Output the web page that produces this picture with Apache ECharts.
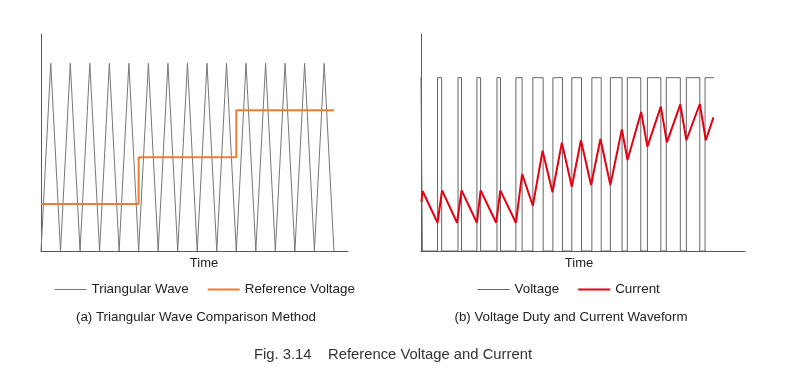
<!DOCTYPE html>
<html>
<head>
<meta charset="utf-8">
<script src="https://cdn.jsdelivr.net/npm/echarts@6/dist/echarts.min.js"></script>
<style>
html,body{margin:0;padding:0;background:#fff;}
#chart{width:785px;height:388px;}
</style>
</head>
<body>
<div id="chart"></div>
<script>
// ---- (a) Triangular wave comparison ----
var triTroughTimes = [0, 1, 2, 3, 4, 5, 6, 7, 8, 9, 10, 11, 12, 13, 14, 15];
var triPeakTimes   = [0.5, 1.5, 2.5, 3.5, 4.5, 5.5, 6.5, 7.5, 8.5, 9.5, 10.5, 11.5, 12.5, 13.5, 14.5];
var triLow = 0, triHigh = 1;
var refStepTimes = [0, 5, 10, 15];
var refLevels    = [0.25, 0.5, 0.75];

// ---- (b) Voltage duty and current ----
var pulseFall = [0.07, 1.06, 2.08, 3.06, 4.08, 5.19, 6.27, 7.26, 8.24, 9.25, 10.32, 11.28, 12.31, 13.31, 14.31];
var pulseRise = [0.85, 1.90, 2.87, 3.90, 4.87, 5.74, 6.77, 7.74, 8.77, 9.72, 10.59, 11.62, 12.59, 13.62, 14.58];
var voltageEnd = 15.03;
var vLow = 0, vHigh = 1;
var currentTime  = [0.02, 0.08, 0.85, 1.08, 1.85, 2.08, 2.87, 3.06, 3.86, 4.07, 4.87, 5.19, 5.74, 6.24, 6.75, 7.23, 7.74, 8.21, 8.73, 9.21, 9.72, 10.31, 10.60, 11.30, 11.62, 12.31, 12.62, 13.31, 13.62, 14.31, 14.62, 15.01];
var currentValue = [0.284, 0.346, 0.163, 0.350, 0.163, 0.350, 0.163, 0.350, 0.163, 0.350, 0.163, 0.444, 0.261, 0.579, 0.339, 0.625, 0.371, 0.639, 0.381, 0.646, 0.381, 0.702, 0.525, 0.802, 0.602, 0.833, 0.627, 0.846, 0.639, 0.848, 0.639, 0.771];

var legendA = ['Triangular Wave', 'Reference Voltage'];
var legendB = ['Voltage', 'Current'];
var axisName = 'Time';
var captionA = '(a) Triangular Wave Comparison Method';
var captionB = '(b) Voltage Duty and Current Waveform';
var figCaption = 'Fig. 3.14    Reference Voltage and Current';

// build series data
var triData = [];
for (var i = 0; i < triTroughTimes.length; i++) {
  triData.push([triTroughTimes[i], triLow]);
  if (i < triPeakTimes.length) triData.push([triPeakTimes[i], triHigh]);
}
var refData = [];
for (var j = 0; j < refLevels.length; j++) {
  refData.push([refStepTimes[j], refLevels[j]]);
  refData.push([refStepTimes[j + 1], refLevels[j]]);
}
var vData = [[0, vHigh]];
for (var k = 0; k < pulseFall.length; k++) {
  vData.push([pulseFall[k], vHigh], [pulseFall[k], vLow]);
  if (k < pulseRise.length) vData.push([pulseRise[k], vLow], [pulseRise[k], vHigh]);
}
vData.push([voltageEnd, vHigh]);
var iData = currentTime.map(function (t, n) { return [t, currentValue[n]]; });

var FONT = '"Liberation Sans", Arial, sans-serif';
var axisCol = '#595959';
var colTri = '#777', colRef = '#ED7D31', colV = '#666', colI = '#E60012';
function xAx(idx, max) {
  return { type: 'value', gridIndex: idx, min: 0, max: max,
    axisLine: { show: true, onZero: false, lineStyle: { color: axisCol, width: 1 } },
    axisTick: { show: false }, axisLabel: { show: false }, splitLine: { show: false } };
}
function yAx(idx, max) {
  return { type: 'value', gridIndex: idx, min: 0, max: max,
    axisLine: { show: true, onZero: false, lineStyle: { color: axisCol, width: 1 } },
    axisTick: { show: false }, axisLabel: { show: false }, splitLine: { show: false } };
}
function txt(x, y, s, col, size) {
  return { type: 'text', x: x, y: y, style: { text: s, fill: col || '#222', font: (size || 13) + 'px ' + FONT, textAlign: 'center', textVerticalAlign: 'middle' } };
}
function legItem(name, color, width) {
  return { name: name, lineStyle: { color: color, width: width }, itemStyle: { opacity: 0 } };
}
var legendCommon = { padding: 0, itemWidth: 32, itemHeight: 14, itemGap: 18,
  itemStyle: { opacity: 0 },
  textStyle: { fontSize: 13.4, color: '#222', fontFamily: FONT } };

var chart = echarts.init(document.getElementById('chart'), null, { renderer: 'canvas' });
chart.setOption({
  animation: false,
  backgroundColor: '#fff',
  grid: [
    { left: 41, top: 34, width: 307, height: 217 },
    { left: 421, top: 34, width: 324, height: 217 }
  ],
  xAxis: [xAx(0, 15.72), xAx(1, 16.63)],
  yAxis: [yAx(0, 1.156), yAx(1, 1.252)],
  legend: [
    Object.assign({ data: [legItem(legendA[0], colTri, 1), legItem(legendA[1], colRef, 2)], left: 54, top: 283 }, legendCommon),
    Object.assign({ data: [legItem(legendB[0], colV, 1), legItem(legendB[1], colI, 2)], left: 477, top: 283 }, legendCommon)
  ],
  series: [
    { name: legendA[0], type: 'line', xAxisIndex: 0, yAxisIndex: 0, data: triData, symbol: 'none',
      lineStyle: { color: colTri, width: 1 }, itemStyle: { color: colTri }, z: 2 },
    { name: legendA[1], type: 'line', xAxisIndex: 0, yAxisIndex: 0, data: refData, symbol: 'none',
      lineStyle: { color: colRef, width: 2 }, itemStyle: { color: colRef }, z: 3 },
    { name: legendB[0], type: 'line', xAxisIndex: 1, yAxisIndex: 1, data: vData, symbol: 'none',
      lineStyle: { color: colV, width: 1 }, itemStyle: { color: colV }, z: 2 },
    { name: legendB[1], type: 'line', xAxisIndex: 1, yAxisIndex: 1, data: iData, symbol: 'none',
      lineStyle: { color: colI, width: 2 }, itemStyle: { color: colI }, z: 3 }
  ],
  graphic: [
    txt(204, 263, axisName),
    txt(579, 263, axisName),
    txt(196, 317, captionA, '#222', 13.3),
    txt(571, 317, captionB, '#222', 13.3),
    txt(393, 355, figCaption, '#333', 14.8)
  ]
});
</script>
</body>
</html>
